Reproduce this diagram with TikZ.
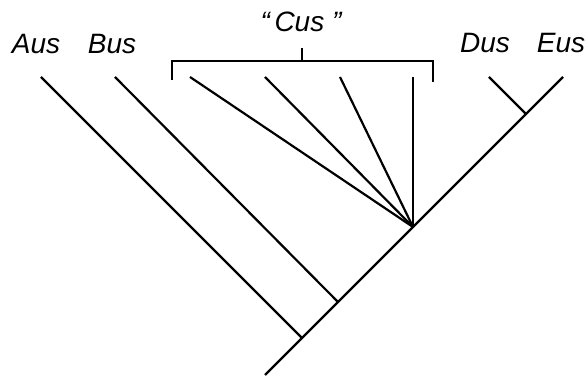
\documentclass[tikz,border=0pt]{standalone}
\usepackage{fontspec}
\setmainfont{Liberation Sans}
\usepackage{tikz}
\usetikzlibrary{positioning, calc}

\tikzset{
    branch/.style={line width=2.2pt, line cap=butt},
    taxon/.style={anchor=base, inner sep=0pt, font=\fontsize{28}{32}\selectfont\itshape}
}

\begin{document}
\begin{tikzpicture}[x=1pt, y=1pt]

    \useasboundingbox (0,0) rectangle (587,377);

    % Internal nodes along the main trunk
    \coordinate (root) at (265,2);
    \coordinate (nA)   at (302,39);
    \coordinate (nB)   at (338,75);
    \coordinate (nC)   at (413,150);
    \coordinate (nDE)  at (526,263);

    % Tips
    \coordinate (tA)  at (41,300);
    \coordinate (tB)  at (115,300);
    \coordinate (tC1) at (190,300);
    \coordinate (tC2) at (265,300);
    \coordinate (tC3) at (340,300);
    \coordinate (tC4) at (413,300);
    \coordinate (tD)  at (489,300);
    \coordinate (tE)  at (563,300);

    % Main trunk
    \draw[branch] (root) -- (nA) -- (nB) -- (nC) -- (nDE) -- (tE);

    % Side branches
    \draw[branch] (nA) -- (tA);
    \draw[branch] (nB) -- (tB);
    \draw[branch] (nDE) -- (tD);

    % Polytomy of the "Cus" group
    \foreach \t in {tC1, tC2, tC3, tC4}
        \draw[branch] (nC) -- (\t);

    % Bracket over the "Cus" group
    \coordinate (bL)  at (172,297);
    \coordinate (bR)  at (433,295);
    \coordinate (bT)  at (302,329);
    \draw[branch] (bL) |- (bR |- 0,316) -- (bR);
    \draw[branch] (bT) -- (bT |- 0,316);

    % Labels
    \node[taxon] (lA) at (36,323)  {Aus};
    \node[taxon] (lB) at (112,323) {Bus};
    \node[taxon] (lC) at (301,345) {“\,Cus ”};
    \node[taxon] (lD) at (485,324) {Dus};
    \node[taxon] (lE) at (561,324) {Eus};

\end{tikzpicture}
\end{document}
